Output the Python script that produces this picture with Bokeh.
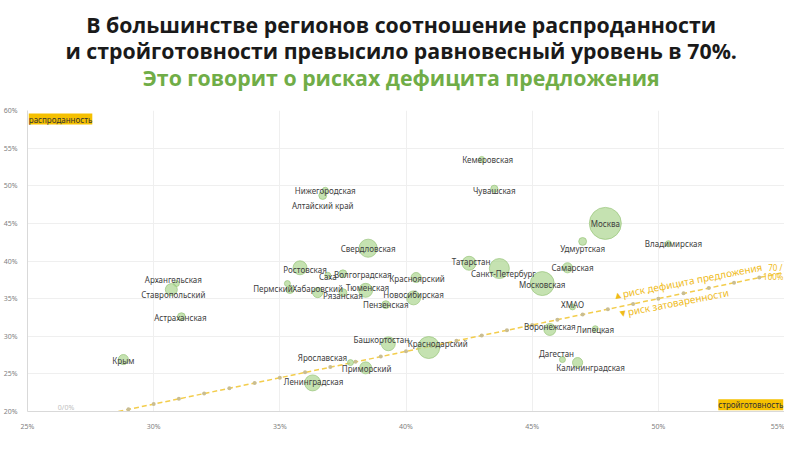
import math
from bokeh.plotting import figure
from bokeh.layouts import column
from bokeh.models import ColumnDataSource, Label, FixedTicker, PrintfTickFormatter, Range1d
from bokeh.core.properties import value
from bokeh.embed import file_html
from bokeh.resources import INLINE

# ---------------- data ----------------
regions = ["Москва", "Кемеровская", "Чувашская", "Нижегородская", "Алтайский край",
           "Свердловская", "Татарстан", "Санкт-Петербург", "Удмуртская", "Владимирская",
           "Самарская", "Московская", "ХМАО", "Воронежская", "Липецкая", "Дагестан",
           "Калининградская", "Ростовская", "Саха", "Волгоградская", "Красноярский",
           "Пермский", "Хабаровский", "Рязанская", "Тюменская", "Новосибирская",
           "Пензенская", "Башкортостан", "Краснодарский", "Ярославская", "Приморский",
           "Ленинградская", "Архангельская", "Ставропольский", "Астраханская", "Крым", ""]
# стройготовность, %
readiness = [47.9, 43.0, 43.5, 36.8, 36.7,
             38.5, 42.5, 43.7, 47.0, 50.4,
             46.4, 45.4, 46.6, 45.7, 47.5, 46.2,
             46.8, 35.8, 36.9, 37.5, 40.4,
             35.4, 36.5, 37.5, 38.4, 40.3,
             39.2, 39.3, 40.9, 37.8, 38.4,
             36.3, 30.9, 30.7, 31.1, 28.8, 35.3]
# распроданность, %
sold = [45.0, 53.5, 49.6, 49.4, 48.7,
        41.7, 39.7, 39.0, 42.6, 42.3,
        39.1, 37.0, 33.9, 30.9, 31.0, 26.9,
        26.5, 39.1, 38.1, 38.3, 37.8,
        36.2, 35.8, 35.8, 36.1, 35.1,
        34.2, 29.0, 28.5, 26.5, 25.8,
        23.8, 37.0, 36.2, 32.6, 26.9, 37.0]
# объём (условные единицы, размер пузыря)
volume = [100, 3.5, 5, 3.5, 6,
          32, 19, 39, 6, 3.5,
          10, 56, 3.5, 14, 3.5, 3.5,
          10, 19, 3.5, 6, 10,
          6, 10, 6, 19, 19,
          6, 19, 47, 3.5, 14,
          25, 3.5, 14, 6, 10, 3.5]

x_ticks = [25, 30, 35, 40, 45, 50, 55]
y_ticks = [20, 25, 30, 35, 40, 45, 50, 55, 60]

# equilibrium line 70/100
eq_line_x = [28.6, 55.0]
eq_line_y = [20.0, 38.5]
eq_dot_x = [29, 30, 31, 32, 33, 34, 35, 36, 37, 38, 39, 40, 41, 42, 43, 44, 45, 46, 47, 48, 49, 50, 51, 52, 53, 54]
eq_dot_y = [20.3, 21.0, 21.7, 22.4, 23.1, 23.8, 24.5, 25.2, 25.9, 26.6, 27.3, 28.0, 28.7, 29.4, 30.1,
            30.8, 31.5, 32.2, 32.9, 33.6, 34.3, 35.0, 35.7, 36.4, 37.1, 37.8]

title_lines = ["В большинстве регионов соотношение распроданности",
               "и стройготовности превысило равновесный уровень в 70%.",
               "Это говорит о рисках дефицита предложения"]
title_colors = ["#1a1a1a", "#1a1a1a", "#70ad47"]

# ---------------- layout of labels (px) ----------------
label_dx = [0, 6, 0, 0, 0,
            0, 2, 4, 0, 5,
            5, 0, 0, 0, 0, -6,
            13, 5, 0, 20, 1,
            -17, 0, 0, 2, 0,
            0, -7, 9, -28, 1,
            1, -3, 2, -1, 0, 0]
label_dy = [0, 0, 2, 0, 10,
            0, -2, 5, 7, 0,
            0, 1, -2, -3, 1, -6,
            5, 2, 1, 1, 1,
            -1, -4, 3, -3, -3,
            0, -4, -4, -5, 1,
            -1, -4, 5, 1, 1, 0]
title_px_x = [387, 387, 387]
title_px_y = [24, 50, 77]

# ---------------- title panel ----------------
TH = 104
t = figure(width=784, height=TH, output_backend="svg", toolbar_location=None,
           x_range=Range1d(0, 784), y_range=Range1d(TH, 0),
           min_border=0, x_axis_type=None, y_axis_type=None)
t.outline_line_color = None
t.grid.visible = False
t.text(title_px_x, title_px_y, text=title_lines, text_color=title_colors,
       text_align="center", text_baseline="middle", text_font=value("Open Sans"),
       text_font_style="bold", text_font_size="21.3px")

# ---------------- chart ----------------
diam = [2 * 16 * math.sqrt(v / 100.0) for v in volume]
src = ColumnDataSource(dict(x=readiness, y=sold, name=regions, d=diam, dx=label_dx, dy=label_dy))

p = figure(width=784, height=438 - TH, output_backend="svg", toolbar_location=None,
           x_range=Range1d(25, 55), y_range=Range1d(20, 60),
           min_border_left=27, min_border_right=0, min_border_top=110 - TH, min_border_bottom=27)
p.outline_line_color = None
p.background_fill_color = "white"

for ax, ticks in ((p.xaxis, x_ticks), (p.yaxis, y_ticks)):
    ax.ticker = FixedTicker(ticks=ticks)
    ax.formatter = PrintfTickFormatter(format="%d%%")
    ax.major_label_text_font = "Noto Sans"
    ax.major_label_text_font_size = "7px"
    ax.major_label_text_color = "#7f7f7f"
    ax.major_tick_line_color = None
    ax.minor_tick_line_color = None
    ax.axis_line_color = "#d9d9d9"
    ax.major_label_standoff = 4
p.xgrid.ticker = FixedTicker(ticks=x_ticks)
p.ygrid.ticker = FixedTicker(ticks=y_ticks)
p.grid.grid_line_color = "#efefef"

# equilibrium line
p.line(eq_line_x, eq_line_y, line_color="#f3cd4c", line_width=1.5, line_dash="5 3")
p.scatter(eq_dot_x, eq_dot_y, size=4, fill_color="#c9bd92", line_color=None)

# bubbles
p.scatter("x", "y", size="d", source=src, fill_color="#add590", fill_alpha=0.7,
          line_color="#98c47a", line_alpha=0.7)
p.text("x", "y", text="name", source=src, x_offset="dx", y_offset="dy",
       text_align="center", text_baseline="middle", text_font=value("Noto Sans"),
       text_font_size="8px", text_color="#404040")

# corner labels
p.add_layout(Label(x=25.05, y=59.6, text="распроданность", text_font="Noto Sans",
                   text_font_size="8px", text_color="#333333", text_baseline="top",
                   background_fill_color="#f5c000"))
p.add_layout(Label(x=54.95, y=20.15, text="стройготовность", text_font="Noto Sans",
                   text_font_size="8px", text_color="#333333", text_align="right",
                   text_baseline="bottom", background_fill_color="#f5c000"))
p.add_layout(Label(x=26.2, y=20.0, text="0/0%", text_font="Noto Sans",
                   text_font_size="7px", text_color="#c0c0c0", text_baseline="bottom"))

# risk annotations
p.add_layout(Label(x=48.2, y=35.4, text="▲риск дефицита предложения", angle=11, angle_units="deg",
                   text_font="Noto Sans", text_font_size="10px", text_color="#efbb1a",
                   text_baseline="middle"))
p.add_layout(Label(x=48.4, y=33.0, text="▼риск затоваренности", angle=11, angle_units="deg",
                   text_font="Noto Sans", text_font_size="10px", text_color="#efbb1a",
                   text_baseline="middle"))
p.add_layout(Label(x=55.0, y=39.1, x_offset=-2, text="70 /", text_font="Noto Sans", text_font_size="8px",
                   text_color="#efbb1a", text_baseline="middle", text_align="right"))
p.add_layout(Label(x=55.0, y=37.9, x_offset=-1, text="100%", text_font="Noto Sans", text_font_size="8px",
                   text_color="#efbb1a", text_baseline="middle", text_align="right"))

layout = column(t, p, spacing=0)
open("out.html", "w").write(file_html(layout, INLINE))
